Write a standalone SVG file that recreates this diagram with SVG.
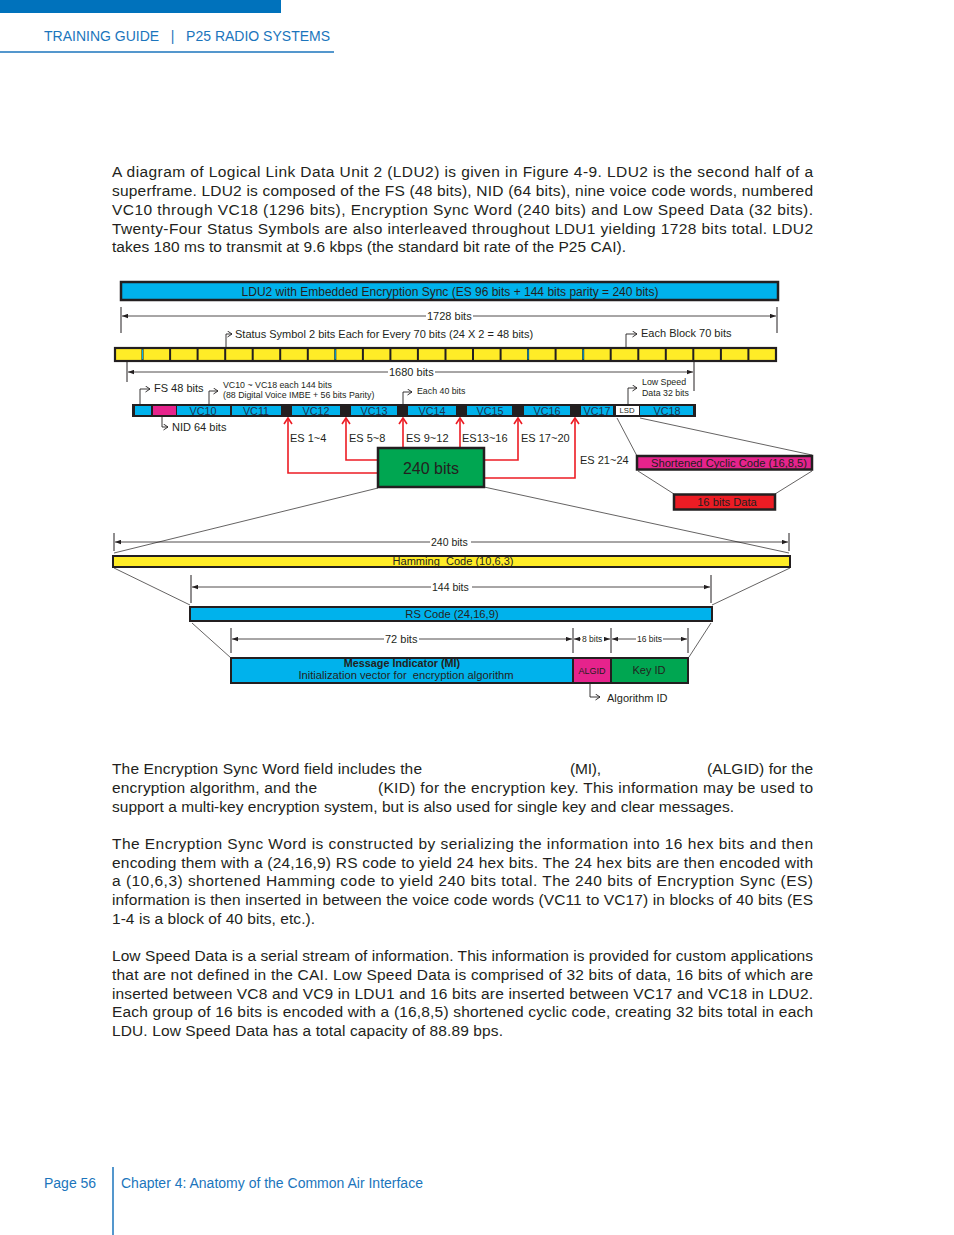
<svg xmlns="http://www.w3.org/2000/svg" width="954" height="1235" viewBox="0 0 954 1235">
<style>
.body{font-family:"Liberation Sans",Arial,sans-serif;font-size:15.5px;fill:#231f20}
.hdr{font-family:"Liberation Sans",Arial,sans-serif;font-size:14px;fill:#1b75bc}
.lb{font-family:"Liberation Sans",Arial,sans-serif;font-size:11px;fill:#231f20}
.sm{font-family:"Liberation Sans",Arial,sans-serif;font-size:8.8px;fill:#231f20}
.tiny{font-family:"Liberation Sans",Arial,sans-serif;font-size:8.5px;fill:#231f20}
.vc{font-family:"Liberation Sans",Arial,sans-serif;font-size:10.8px;fill:#1d3350;text-anchor:middle}
.mid{text-anchor:middle}
.box{stroke:#231f20;stroke-width:2.5}
.cy{fill:#00b2ec}
.mg{fill:#e6238c}
.gr{fill:#00a651}
.rd{fill:#ed1c24}
.yl{fill:#ffec27}
.dim{stroke:#231f20;stroke-width:0.8;fill:none}
.tick{stroke:#231f20;stroke-width:1;fill:none}
.thin{stroke:#231f20;stroke-width:0.7;fill:none}
.bent{stroke:#231f20;stroke-width:0.9;fill:none;marker-end:url(#open)}
.redA{stroke:#ed1c24;stroke-width:1.6;fill:none;marker-start:url(#redopen)}
</style>
<defs>
<marker id="dimA" markerUnits="userSpaceOnUse" markerWidth="7" markerHeight="5" refX="6" refY="2.5" orient="auto-start-reverse"><path d="M0,0.3 L6,2.5 L0,4.7 z" fill="#231f20"/></marker>
<marker id="open" markerUnits="userSpaceOnUse" markerWidth="7" markerHeight="8" refX="5" refY="3.5" orient="auto"><path d="M0.5,0.5 L5,3.5 L0.5,6.5" fill="none" stroke="#231f20" stroke-width="0.9"/></marker>
<marker id="redopen" markerUnits="userSpaceOnUse" markerWidth="12" markerHeight="12" refX="7" refY="5" orient="auto-start-reverse"><path d="M1,1 L7,5 L1,9" fill="none" stroke="#ed1c24" stroke-width="1.6"/></marker>
</defs>
<rect width="954" height="1235" fill="#ffffff"/>

<g id="header">
<rect x="0" y="0" width="281" height="13" fill="#0072bc"/>
<text class="hdr" x="44" y="41" xml:space="preserve">TRAINING GUIDE   |   P25 RADIO SYSTEMS</text>
<line x1="0" y1="52" x2="334" y2="52" stroke="#1b75bc" stroke-width="1.5"/>
</g>

<g id="para1">
<text class="body" x="112" y="177" textLength="701" lengthAdjust="spacing">A diagram of Logical Link Data Unit 2 (LDU2) is given in Figure 4-9.  LDU2 is the second half of a</text>
<text class="body" x="112" y="196" textLength="701" lengthAdjust="spacing">superframe. LDU2 is composed of the FS (48 bits), NID (64 bits), nine voice code words, numbered</text>
<text class="body" x="112" y="215" textLength="701" lengthAdjust="spacing">VC10 through VC18 (1296 bits), Encryption Sync Word (240 bits) and Low Speed Data (32 bits).</text>
<text class="body" x="112" y="234" textLength="701" lengthAdjust="spacing">Twenty-Four Status Symbols are also interleaved throughout LDU1 yielding 1728 bits total.  LDU2</text>
<text class="body" x="112" y="252" textLength="514" lengthAdjust="spacing">takes 180 ms to transmit at 9.6 kbps (the standard bit rate of the P25 CAI).</text>
</g>

<g id="ldu2-bar">
<rect class="box cy" x="121" y="282" width="657" height="18"/>
<text class="lb mid" x="450" y="295.5" style="font-size:12px">LDU2 with Embedded Encryption Sync (ES 96 bits + 144 bits parity = 240 bits)</text>
</g>

<g id="connectors">
<line class="tick" x1="121" y1="307" x2="121" y2="333"/>
<line class="tick" x1="777" y1="307" x2="777" y2="333"/>
<line class="dim" x1="426" y1="316" x2="122" y2="316" marker-end="url(#dimA)"/>
<line class="dim" x1="473" y1="316" x2="776" y2="316" marker-end="url(#dimA)"/>
<line class="tick" x1="127" y1="362" x2="127" y2="382"/>
<line class="tick" x1="694" y1="362" x2="694" y2="391"/>
<line class="dim" x1="388" y1="372" x2="128" y2="372" marker-end="url(#dimA)"/>
<line class="dim" x1="435" y1="372" x2="693" y2="372" marker-end="url(#dimA)"/>
<path class="bent" d="M226,348 V334 H232"/>
<path class="bent" d="M626,348 V334 H637"/>
<path class="bent" d="M140,404 V389 H150"/>
<path class="bent" d="M209,404 V391 H218"/>
<path class="bent" d="M403,404 V392 H412"/>
<path class="bent" d="M628,404 V388 H637"/>
<path class="bent" d="M162,417 V427 H168"/>
<path class="bent" d="M590,684 V697 H600"/>
<path class="redA" d="M288,418 V473 H378"/>
<path class="redA" d="M346,418 V460 H378"/>
<path class="redA" d="M403,418 V448"/>
<path class="redA" d="M460,418 V448"/>
<path class="redA" d="M518,418 V460 H484"/>
<path class="redA" d="M575,418 V478 H484"/>
<line class="thin" x1="617" y1="418" x2="637" y2="456"/>
<line class="thin" x1="640" y1="418" x2="812" y2="455"/>
<line class="thin" x1="638" y1="471" x2="674" y2="494"/>
<line class="thin" x1="812" y1="471" x2="775" y2="494"/>
<line class="thin" x1="378" y1="488" x2="114" y2="553"/>
<line class="thin" x1="484" y1="487" x2="789" y2="553"/>
<line class="thin" x1="114" y1="568" x2="190" y2="605"/>
<line class="thin" x1="790" y1="568" x2="712" y2="605"/>
<line class="thin" x1="192" y1="623" x2="231" y2="658"/>
<line class="thin" x1="711" y1="623" x2="689" y2="657"/>
<line class="tick" x1="114" y1="533" x2="114" y2="551"/>
<line class="tick" x1="789" y1="533" x2="789" y2="551"/>
<line class="dim" x1="430" y1="542" x2="115" y2="542" marker-end="url(#dimA)"/>
<line class="dim" x1="471" y1="542" x2="788" y2="542" marker-end="url(#dimA)"/>
<line class="tick" x1="191" y1="575" x2="191" y2="603"/>
<line class="tick" x1="711" y1="575" x2="711" y2="603"/>
<line class="dim" x1="431" y1="587" x2="192" y2="587" marker-end="url(#dimA)"/>
<line class="dim" x1="472" y1="587" x2="710" y2="587" marker-end="url(#dimA)"/>
<line class="tick" x1="231" y1="628" x2="231" y2="653"/>
<line class="tick" x1="573" y1="628" x2="573" y2="653"/>
<line class="tick" x1="611" y1="628" x2="611" y2="653"/>
<line class="tick" x1="688" y1="628" x2="688" y2="653"/>
<line class="dim" x1="384" y1="639" x2="232" y2="639" marker-end="url(#dimA)"/>
<line class="dim" x1="419" y1="639" x2="572" y2="639" marker-end="url(#dimA)"/>
<line class="dim" x1="581" y1="639" x2="574" y2="639" marker-end="url(#dimA)"/>
<line class="dim" x1="604" y1="639" x2="610" y2="639" marker-end="url(#dimA)"/>
<line class="dim" x1="636" y1="639" x2="612" y2="639" marker-end="url(#dimA)"/>
<line class="dim" x1="663" y1="639" x2="687" y2="639" marker-end="url(#dimA)"/>
</g>

<g id="dim-labels">
<text class="lb" x="427" y="319.5">1728 bits</text>
<text class="lb" x="389" y="375.5">1680 bits</text>
<text class="lb" x="431" y="545.5" style="font-size:10.5px">240 bits</text>
<text class="lb" x="432" y="590.5" style="font-size:10.5px">144 bits</text>
<text class="lb" x="385" y="642.5">72 bits</text>
<text class="tiny" x="582" y="641.5">8 bits</text>
<text class="tiny" x="637" y="641.5">16 bits</text>
</g>

<g id="annotations">
<text class="lb" x="235" y="338">Status Symbol 2 bits Each for Every 70 bits (24 X 2 = 48 bits)</text>
<text class="lb" x="641" y="337">Each Block 70 bits</text>
<text class="lb" x="154" y="392">FS 48 bits</text>
<text class="sm" x="223" y="388">VC10 ~ VC18 each 144 bits</text>
<text class="sm" x="223" y="398">(88 Digital Voice IMBE + 56 bits Parity)</text>
<text class="sm" x="417" y="394">Each 40 bits</text>
<text class="sm" x="642" y="385">Low Speed</text>
<text class="sm" x="642" y="396">Data 32 bits</text>
<text class="lb" x="172" y="431">NID 64 bits</text>
<text class="lb" x="290" y="442">ES 1~4</text>
<text class="lb" x="349" y="442">ES 5~8</text>
<text class="lb" x="406" y="442">ES 9~12</text>
<text class="lb" x="462" y="442">ES13~16</text>
<text class="lb" x="521" y="442">ES 17~20</text>
<text class="lb" x="580" y="464">ES 21~24</text>
<text class="lb" x="607" y="702">Algorithm ID</text>
</g>

<g id="status-row">
<rect class="yl" x="115" y="348" width="661" height="13" stroke="#231f20" stroke-width="2.2"/>
<g stroke="#231f20" stroke-width="2">
<line x1="142.5" y1="348" x2="142.5" y2="361"/><line x1="170.1" y1="348" x2="170.1" y2="361"/><line x1="197.6" y1="348" x2="197.6" y2="361"/><line x1="225.2" y1="348" x2="225.2" y2="361"/><line x1="252.7" y1="348" x2="252.7" y2="361"/><line x1="280.2" y1="348" x2="280.2" y2="361"/><line x1="307.8" y1="348" x2="307.8" y2="361"/><line x1="335.3" y1="348" x2="335.3" y2="361"/><line x1="362.9" y1="348" x2="362.9" y2="361"/><line x1="390.4" y1="348" x2="390.4" y2="361"/><line x1="417.9" y1="348" x2="417.9" y2="361"/><line x1="445.5" y1="348" x2="445.5" y2="361"/><line x1="473" y1="348" x2="473" y2="361"/><line x1="500.6" y1="348" x2="500.6" y2="361"/><line x1="528.1" y1="348" x2="528.1" y2="361"/><line x1="555.6" y1="348" x2="555.6" y2="361"/><line x1="583.2" y1="348" x2="583.2" y2="361"/><line x1="610.7" y1="348" x2="610.7" y2="361"/><line x1="638.3" y1="348" x2="638.3" y2="361"/><line x1="665.8" y1="348" x2="665.8" y2="361"/><line x1="693.3" y1="348" x2="693.3" y2="361"/><line x1="720.9" y1="348" x2="720.9" y2="361"/><line x1="748.4" y1="348" x2="748.4" y2="361"/>
</g>
<g stroke="#00b2ec" stroke-width="1">
<line x1="142.5" y1="349.5" x2="142.5" y2="359.5"/><line x1="335.3" y1="349.5" x2="335.3" y2="359.5"/><line x1="528.1" y1="349.5" x2="528.1" y2="359.5"/><line x1="583.2" y1="349.5" x2="583.2" y2="359.5"/>
</g>
</g>

<g id="voice-row">
<rect x="132" y="404" width="564" height="13" fill="#231f20"/>
<rect class="cy" x="135" y="406" width="16" height="9"/>
<rect class="mg" x="153" y="406" width="23" height="9"/>
<rect class="cy" x="177" y="406" width="53" height="9"/>
<rect class="cy" x="232" y="406" width="49" height="9"/>
<rect class="cy" x="292" y="406" width="48" height="9"/>
<rect class="cy" x="351" y="406" width="46" height="9"/>
<rect class="cy" x="408" y="406" width="48" height="9"/>
<rect class="cy" x="467" y="406" width="45" height="9"/>
<rect class="cy" x="524" y="406" width="46" height="9"/>
<rect class="cy" x="581" y="406" width="32" height="9"/>
<rect x="616" y="406" width="23" height="9" fill="#ffffff"/>
<rect class="cy" x="640" y="406" width="53" height="9"/>
<text class="vc" x="203" y="414.8">VC10</text>
<text class="vc" x="256" y="414.8">VC11</text>
<text class="vc" x="316" y="414.8">VC12</text>
<text class="vc" x="374" y="414.8">VC13</text>
<text class="vc" x="432" y="414.8">VC14</text>
<text class="vc" x="490" y="414.8">VC15</text>
<text class="vc" x="547" y="414.8">VC16</text>
<text class="vc" x="597" y="414.8">VC17</text>
<text class="tiny mid" x="627" y="412.5" style="font-size:7.8px">LSD</text>
<text class="vc" x="667" y="414.8">VC18</text>
</g>

<g id="es-240">
<rect class="box gr" x="378" y="448" width="106" height="39"/>
<text class="lb mid" x="431" y="473.5" style="font-size:16px">240 bits</text>
</g>

<g id="cyclic-code">
<rect class="box mg" x="637" y="456" width="175" height="13.5" stroke-width="2"/>
<text class="lb mid" x="729" y="467" style="font-size:11.2px">Shortened Cyclic Code (16,8,5)</text>
</g>

<g id="data-16">
<rect class="box rd" x="674" y="494.5" width="101" height="15" stroke-width="2"/>
<text class="lb mid" x="727" y="506" style="font-size:11.2px">16 bits Data</text>
</g>

<g id="hamming">
<rect class="yl" x="113" y="556" width="677" height="11" stroke="#231f20" stroke-width="2"/>
<text class="lb mid" x="453" y="565" style="font-size:10px" textLength="121" lengthAdjust="spacingAndGlyphs">Hamming&#160; Code (10,6,3)</text>
</g>

<g id="rs-code">
<rect class="cy" x="190" y="607" width="522" height="14" stroke="#231f20" stroke-width="2"/>
<text class="lb mid" x="452" y="617.5" style="font-size:11.2px">RS Code (24,16,9)</text>
</g>

<g id="mi">
<rect class="cy" x="231" y="658" width="342" height="25" stroke="#231f20" stroke-width="2"/>
<text class="lb mid" x="402" y="667" style="font-size:10.8px;font-weight:bold">Message Indicator (MI)</text>
<text class="lb mid" x="406" y="679" style="font-size:11.2px">Initialization vector for&#160; encryption algorithm</text>
</g>
<g id="algid">
<rect class="mg" x="573" y="658" width="38" height="25" stroke="#231f20" stroke-width="2"/>
<text class="sm mid" x="592" y="673.5" style="font-size:9px">ALGID</text>
</g>
<g id="keyid">
<rect class="gr" x="611" y="658" width="77" height="25" stroke="#231f20" stroke-width="2"/>
<text class="lb mid" x="649" y="673.5">Key ID</text>
</g>

<g id="para2">
<text class="body" x="112" y="774" textLength="310" lengthAdjust="spacing">The Encryption Sync Word field includes the</text>
<text class="body" x="570" y="774" textLength="31" lengthAdjust="spacing">(MI),</text>
<text class="body" x="707" y="774" textLength="106" lengthAdjust="spacing">(ALGID) for the</text>
<text class="body" x="112" y="793" textLength="205" lengthAdjust="spacing">encryption algorithm, and the</text>
<text class="body" x="378" y="793" textLength="435" lengthAdjust="spacing">(KID) for the encryption key.  This information may be used to</text>
<text class="body" x="112" y="812" textLength="622" lengthAdjust="spacing">support a multi-key encryption system, but is also used for single key and clear messages.</text>
</g>

<g id="para3">
<text class="body" x="112" y="849" textLength="701" lengthAdjust="spacing">The Encryption Sync Word is constructed by serializing the information into 16 hex bits and then</text>
<text class="body" x="112" y="868" textLength="701" lengthAdjust="spacing">encoding them with a (24,16,9) RS code to yield 24 hex bits.  The 24 hex bits are then encoded with</text>
<text class="body" x="112" y="886" textLength="701" lengthAdjust="spacing">a (10,6,3) shortened Hamming code to yield 240 bits total.  The 240 bits of Encryption Sync (ES)</text>
<text class="body" x="112" y="905" textLength="701" lengthAdjust="spacing">information is then inserted in between the voice code words (VC11 to VC17) in blocks of 40 bits (ES</text>
<text class="body" x="112" y="924" textLength="203" lengthAdjust="spacing">1-4 is a block of 40 bits, etc.).</text>
</g>

<g id="para4">
<text class="body" x="112" y="961" textLength="701" lengthAdjust="spacing">Low Speed Data is a serial stream of information. This information is provided for custom applications</text>
<text class="body" x="112" y="980" textLength="701" lengthAdjust="spacing">that are not defined in the CAI.  Low Speed Data is comprised of 32 bits of data, 16 bits of which are</text>
<text class="body" x="112" y="999" textLength="701" lengthAdjust="spacing">inserted between VC8 and VC9 in LDU1 and 16 bits are inserted between VC17 and VC18 in LDU2.</text>
<text class="body" x="112" y="1017" textLength="701" lengthAdjust="spacing">Each group of 16 bits is encoded with a (16,8,5) shortened cyclic code, creating 32 bits total in each</text>
<text class="body" x="112" y="1036" textLength="391" lengthAdjust="spacing">LDU.  Low Speed Data has a total capacity of 88.89 bps.</text>
</g>

<g id="footer">
<text class="hdr" x="44" y="1188">Page 56</text>
<line x1="113" y1="1167" x2="113" y2="1235" stroke="#1b75bc" stroke-width="1.5"/>
<text class="hdr" x="121" y="1188">Chapter 4: Anatomy of the Common Air Interface</text>
</g>
</svg>
